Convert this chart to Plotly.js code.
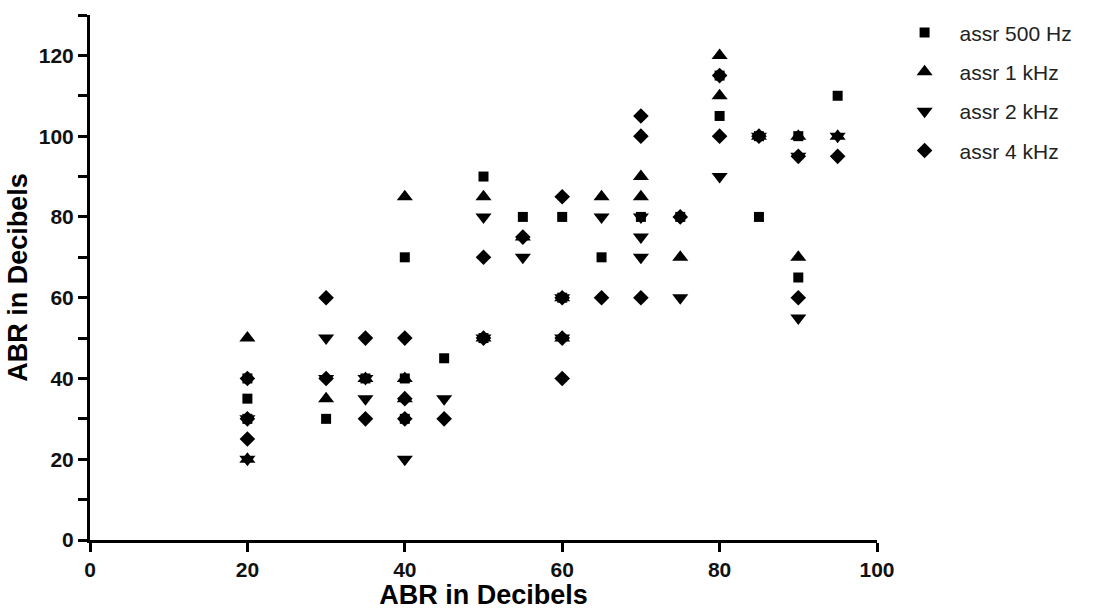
<!DOCTYPE html>
<html>
<head>
<meta charset="utf-8">
<script src="https://cdn.plot.ly/plotly-3.0.1.min.js"></script>
<style>html,body{margin:0;padding:0;background:#fff;}#chart{width:1096px;height:610px;}</style>
</head>
<body>
<div id="chart"></div>
<script>
// ABR (x) vs ASSR thresholds (y)
var seriesNames = ["assr 500 Hz", "assr 1 kHz", "assr 2 kHz", "assr 4 kHz"];

var abr500  = [20, 20, 20, 30, 35, 40, 40, 40, 45, 50, 50, 55, 60, 60, 65, 70, 75, 80, 80, 85, 85, 90, 90, 95];
var assr500 = [40, 35, 30, 30, 40, 70, 40, 30, 45, 90, 50, 80, 80, 60, 70, 80, 80, 105, 115, 100, 80, 100, 65, 110];

var abr1k  = [20, 20, 30, 35, 40, 40, 40, 50, 50, 55, 60, 60, 65, 70, 70, 75, 80, 80, 85, 90, 90, 95];
var assr1k = [50, 20, 35, 40, 85, 40, 35, 85, 50, 75, 60, 50, 85, 90, 85, 70, 120, 110, 100, 100, 70, 100];

var abr2k  = [20, 20, 30, 30, 35, 35, 40, 45, 50, 50, 55, 60, 60, 65, 70, 70, 70, 75, 80, 85, 90, 90, 95];
var assr2k = [20, 30, 50, 40, 35, 40, 20, 35, 80, 50, 70, 60, 50, 80, 80, 75, 70, 60, 90, 100, 95, 55, 100];

var abr4k  = [20, 20, 20, 30, 30, 35, 35, 40, 40, 40, 45, 50, 50, 55, 60, 60, 60, 60, 65, 70, 70, 70, 75, 80, 80, 85, 90, 90, 95];
var assr4k = [40, 30, 25, 60, 40, 50, 30, 50, 35, 30, 30, 70, 50, 75, 85, 60, 50, 40, 60, 105, 100, 60, 80, 115, 100, 100, 95, 60, 95];

var xTickVals = [0, 20, 40, 60, 80, 100];
var xTickText = ["0", "20", "40", "60", "80", "100"];
var yTickVals = [0, 10, 20, 30, 40, 50, 60, 70, 80, 90, 100, 110, 120, 130];
var yTickText = ["0", "", "20", "", "40", "", "60", "", "80", "", "100", "", "120", ""];

var xs = [abr500, abr1k, abr2k, abr4k];
var ys = [assr500, assr1k, assr2k, assr4k];
var symbols = ["square", "triangle-up", "triangle-down", "diamond"];
var sizes = [10, 14, 14, 12];

var traces = seriesNames.map(function (n, i) {
  return {
    type: "scatter", mode: "markers", name: n,
    x: xs[i], y: ys[i], legendgroup: "g" + i,
    marker: {symbol: symbols[i], size: sizes[i], color: "#000", line: {width: 0}},
    cliponaxis: false
  };
});

var axisFont = {family: "Liberation Sans, Arial, sans-serif", size: 21, color: "#111", weight: "bold"};
var titleFont = {family: "Liberation Sans, Arial, sans-serif", size: 27, color: "#000"};

var layout = {
  width: 1096, height: 610,
  paper_bgcolor: "#fff", plot_bgcolor: "#fff",
  margin: {l: 90, r: 219, t: 12, b: 70},
  showlegend: true,
  legend: {
    x: 1.016, xanchor: "left", y: 1.005, yanchor: "top",
    font: {family: "Liberation Sans, Arial, sans-serif", size: 21, color: "#222"},
    itemwidth: 60, tracegroupgap: 9, traceorder: "grouped",
    bgcolor: "rgba(0,0,0,0)", borderwidth: 0
  },
  xaxis: {
    range: [0, 100], tickmode: "array", tickvals: xTickVals, ticktext: xTickText,
    ticks: "outside", ticklen: 9, tickwidth: 3, tickcolor: "#000",
    showline: true, linewidth: 3, linecolor: "#000",
    showgrid: false, zeroline: false,
    tickfont: axisFont,
    title: {text: "<b>ABR in Decibels</b>", font: titleFont, standoff: 6}
  },
  yaxis: {
    range: [0, 130], tickmode: "array", tickvals: yTickVals, ticktext: yTickText,
    ticks: "outside", ticklen: 9, tickwidth: 3, tickcolor: "#000",
    showline: true, linewidth: 3, linecolor: "#000",
    showgrid: false, zeroline: false,
    tickfont: axisFont,
    title: {text: "<b>ABR in Decibels</b>", font: titleFont, standoff: 4}
  }
};

Plotly.newPlot("chart", traces, layout, {displayModeBar: false, staticPlot: true});
</script>
</body>
</html>
